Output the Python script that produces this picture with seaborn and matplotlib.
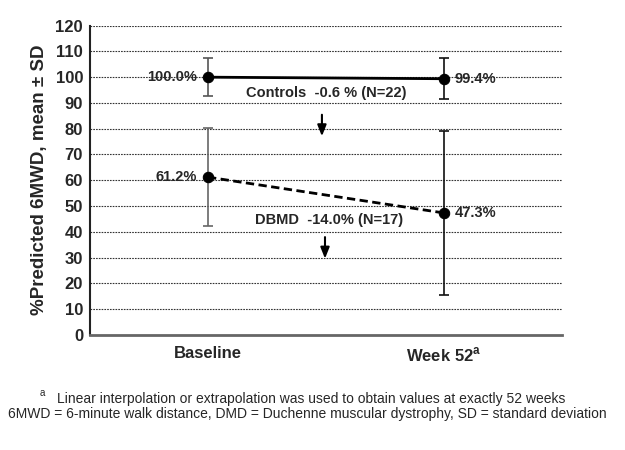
import numpy as np
import pandas as pd
import matplotlib
matplotlib.use("Agg")
import matplotlib.pyplot as plt
import seaborn as sns

# ---- data ----
timepoints = ["Baseline", "Week 52"]
tick_labels = ["Baseline", r"Week 52$^{\mathregular{a}}$"]
controls_mean = [100.0, 99.4]
controls_sd = [7.5, 8.0]
dmd_mean = [61.2, 47.3]
dmd_sd = [19.0, 32.0]
controls_labels = ["100.0%", "99.4%"]
dmd_labels = ["61.2%", "47.3%"]
yticks = list(range(0, 121, 10))

sns.set_theme(style="white")
plt.rcParams['font.family'] = ['Liberation Sans', 'DejaVu Sans']
plt.rcParams['mathtext.fontset'] = 'custom'
plt.rcParams['mathtext.rm'] = 'Liberation Sans:bold'

fig = plt.figure(figsize=(6.25, 4.5), dpi=100)
ax = fig.add_axes([0.144, 0.256, 0.755, 0.687])

xpos = np.arange(len(timepoints))
df = pd.DataFrame({
    "x": np.concatenate([xpos, xpos]),
    "y": controls_mean + dmd_mean,
    "group": ["Controls"] * 2 + ["DMD"] * 2,
})

# grid lines
for yv in yticks[1:]:
    ax.axhline(yv, color="#333333", lw=0.8, ls=(0, (1.5, 1)), zorder=0)

# error bars
ekw = dict(capsize=3.5, lw=1.2, capthick=1.2, zorder=2)
ax.errorbar(xpos[0], controls_mean[0], yerr=controls_sd[0], color="#555555", **ekw)
ax.errorbar(xpos[1], controls_mean[1], yerr=controls_sd[1], color="#111111", **ekw)
ax.errorbar(xpos[0], dmd_mean[0], yerr=dmd_sd[0], color="#666666", **ekw)
ax.errorbar(xpos[1], dmd_mean[1], yerr=dmd_sd[1], color="#111111", **ekw)

sns.lineplot(data=df, x="x", y="y", style="group", markers={"Controls": "o", "DMD": "o"},
             dashes={"Controls": "", "DMD": (3, 1.6)}, color="black", markersize=7.5,
             markeredgecolor="black", linewidth=2.0, legend=False, ax=ax, zorder=3)

# value labels
lkw = dict(va="center", fontsize=10.5, fontweight="bold")
ax.text(xpos[0] - 0.045, controls_mean[0], controls_labels[0], ha="right", **lkw)
ax.text(xpos[1] + 0.045, controls_mean[1], controls_labels[1], ha="left", **lkw)
ax.text(xpos[0] - 0.045, dmd_mean[0], dmd_labels[0], ha="right", **lkw)
ax.text(xpos[1] + 0.045, dmd_mean[1], dmd_labels[1], ha="left", **lkw)

# group annotations
ax.text(0.5, 93.7, "Controls  -0.6 % (N=22)", ha="center", va="center", fontsize=10.5, fontweight="bold")
ax.annotate("", xy=(0.483, 76.0), xytext=(0.483, 86.5),
            arrowprops=dict(arrowstyle="-|>,head_width=0.22,head_length=0.55", color="black", lw=1.5))
ax.text(0.515, 44.5, "DBMD  -14.0% (N=17)", ha="center", va="center", fontsize=10.5, fontweight="bold")
ax.annotate("", xy=(0.496, 28.5), xytext=(0.496, 39.0),
            arrowprops=dict(arrowstyle="-|>,head_width=0.22,head_length=0.55", color="black", lw=1.5))

ax.set_xlim(-0.5, 1.5)
ax.set_ylim(0, 120)
ax.set_yticks(yticks)
ax.set_yticklabels([str(v) for v in yticks], fontsize=12, fontweight="bold")
ax.set_xticks(xpos)
ax.set_xticklabels(tick_labels, fontsize=12, fontweight="bold")
ax.tick_params(axis="x", length=4, width=1, color="#555555", pad=4)
ax.tick_params(axis="y", length=3, width=1, color="#333333", pad=2)
ax.set_xlabel("")
ax.set_ylabel("%Predicted 6MWD, mean ± SD", fontsize=13.5, fontweight="bold", labelpad=5)

for s in ["top", "right"]:
    ax.spines[s].set_visible(False)
ax.spines["left"].set_color("#222222")
ax.spines["bottom"].set_color("#666666")
ax.spines["left"].set_linewidth(1.5)
ax.spines["bottom"].set_linewidth(2)

fig.text(40/625, 1 - 393/450, "a", fontsize=7, ha="left", va="center")
fig.text(57/625, 1 - 399/450, "Linear interpolation or extrapolation was used to obtain values at exactly 52 weeks",
         fontsize=10, ha="left", va="center")
fig.text(8/625, 1 - 414/450, "6MWD = 6-minute walk distance, DMD = Duchenne muscular dystrophy, SD = standard deviation",
         fontsize=10, ha="left", va="center")

fig.savefig("out.png", dpi=100)
